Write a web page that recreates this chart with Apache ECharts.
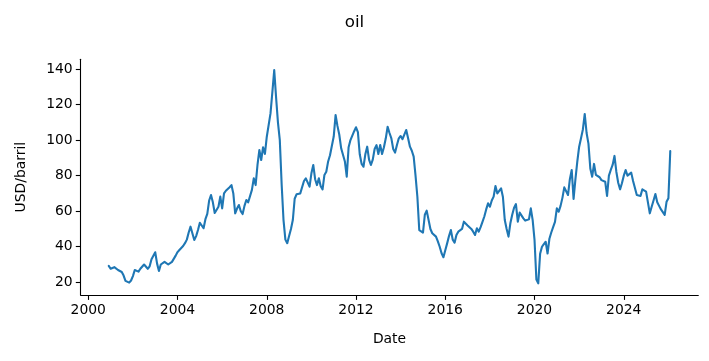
<!DOCTYPE html>
<html><head><meta charset="utf-8">
<script src="https://cdn.jsdelivr.net/npm/echarts@6/dist/echarts.min.js"></script>
<style>html,body{margin:0;padding:0;background:#fff}#c{width:709px;height:361px}</style>
</head><body><div id="c"></div>
<script>
// Monthly series (month-end), starting Nov 2000
const startYear = 2000;
const startMonth = 11;
const prices = [
29.2,27.6,26.9,28.5,27.5,26.9,27.2,25.8,23.8,20.8,20,19.8,
21,23.5,26.9,26.3,26,27.6,28.3,30,30.2,27.6,29,33,
33.5,36.9,30.5,26.4,30,30.6,31.5,32,30,30.5,31.5,32.2,
35,37,38.2,37.5,40.4,42,44,48,51.3,51.7,43.8,46,
49.4,53.5,54.5,50.4,55.5,58.5,66,69.1,65,59,57.9,62.5,
68.2,61.6,70,71.5,72.5,73.5,74.7,70,58.8,61.5,63.5,60,
58.4,63,66.3,65,64.4,72,78.5,74.7,86,94.4,88.8,96,
92.2,101.9,101.5,115,127,139.4,124,110,100,75,55,44,
42,46,50,55,67,69.5,70.4,70,70.5,77,78.5,79.1,
73.8,81.3,86,78,74.7,78.5,74,72.3,80.4,82.2,88,91.5,
92.6,102,114.1,108,103,95.4,95.5,88,79.4,96,100,100,
105,107.2,104.5,92,86.6,85,92,96.3,89,86,89,95,
97.2,92.2,97.2,92.2,96,101,107.5,104,101,95,93,97.2,
101,102.3,100.5,100,105.7,101,96.3,94,90.7,80,68,49.4,
48.5,48,58,60.3,60,50,47.6,48.5,45.7,43,40,36.3,
34.1,38,41.9,46,49.4,44,42.3,46.6,48.5,49,50,54.1,
54.1,52,51.3,50,48.5,46.6,50.4,48.5,51,54,57,61,
64.4,62.5,66,68.2,74.2,70,69.1,72.9,68,55,50,45.7,
53.2,58,62,64,54.1,59.2,59,56,54.7,55,55.4,61.6,
55,43.8,21.5,19.4,36,40,41.5,42.8,36.2,44.5,48,51,
54,61.6,59.7,63,67.5,73.4,73.8,69.1,78,83.2,66.9,78,
87.9,96.3,101,106,114.7,104,98,84,79.4,86.6,80.4,80,
79.1,77.5,76.6,76.6,68.6,80,83.2,86,91.1,82.2,76,72.3,
75.7,80,83.2,80,81,81.7,77,73,69.1,69.5,68.6,72.3,
71.5,71,71.9,58.8,62.5,66,69.7,65,63,61,59.5,57.9,
65.3,67.3,93.8
];
const xTicks = [2000, 2004, 2008, 2012, 2016, 2020, 2024];
const yTicks = [20, 40, 60, 80, 100, 120, 140];

const seriesData = prices.map((v, i) => [startYear + startMonth / 12 + i / 12, v]);

const font = 'DejaVu Sans';
const chart = echarts.init(document.getElementById('c'), null, {renderer: 'canvas'});
chart.setOption({
  animation: false,
  backgroundColor: '#fff',
  title: {
    text: 'oil', left: 'center', top: 9,
    textStyle: {fontFamily: font, fontSize: 16.7, fontWeight: 'normal', color: '#000'}
  },
  grid: {left: 80.7, right: 10.7, top: 59.3, bottom: 66, containLabel: false},
  xAxis: {
    type: 'value', min: 1999.66, max: 2027.34,
    name: 'Date', nameLocation: 'middle', nameGap: 37,
    nameTextStyle: {fontFamily: font, fontSize: 13.9, color: '#000'},
    axisLine: {show: true, lineStyle: {color: '#000', width: 1.1}},
    axisTick: {show: true, customValues: xTicks, length: 4.9, lineStyle: {color: '#000', width: 1.1}},
    axisLabel: {show: true, customValues: xTicks, margin: 8, formatter: v => String(v),
      fontFamily: font, fontSize: 13.9, color: '#000'},
    splitLine: {show: false}
  },
  yAxis: {
    type: 'value', min: 12.85, max: 145.46,
    name: 'USD/barril', nameLocation: 'middle', nameGap: 52, nameRotate: 90,
    nameTextStyle: {fontFamily: font, fontSize: 13.9, color: '#000'},
    axisLine: {show: true, lineStyle: {color: '#000', width: 1.1}},
    axisTick: {show: true, customValues: yTicks, length: 4.9, lineStyle: {color: '#000', width: 1.1}},
    axisLabel: {show: true, customValues: yTicks, margin: 8, formatter: v => String(v),
      fontFamily: font, fontSize: 13.9, color: '#000'},
    splitLine: {show: false}
  },
  series: [{
    type: 'line', data: seriesData, showSymbol: false, symbol: 'none',
    lineStyle: {color: '#1f77b4', width: 2.1, join: 'round', cap: 'round'},
    itemStyle: {color: '#1f77b4'}
  }]
});
</script>
</body></html>
